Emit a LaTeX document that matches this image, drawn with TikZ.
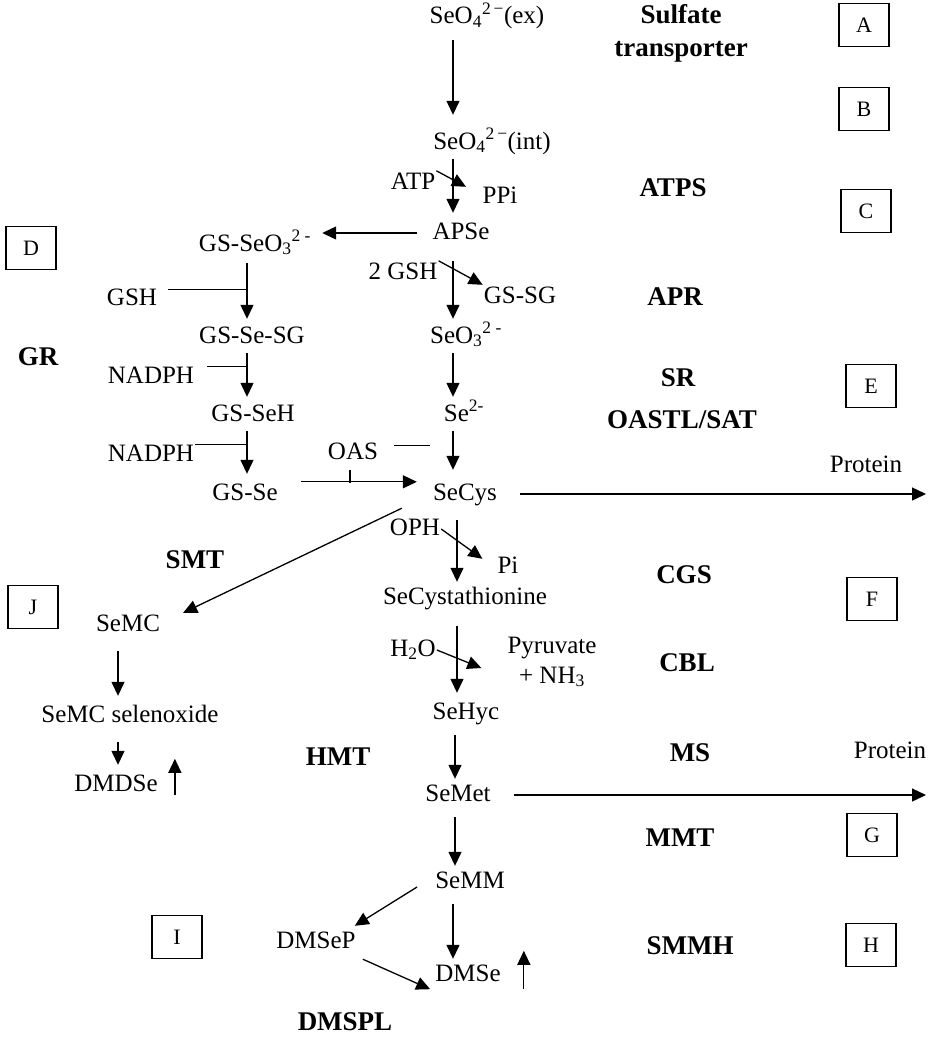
\documentclass[tikz,border=0pt]{standalone}
\usepackage{fontspec}
\setmainfont{Liberation Serif}
\usetikzlibrary{arrows.meta,calc}

\tikzset{
  chem/.style={font=\fontsize{25}{28}\selectfont, inner sep=1pt, text height=17pt, text depth=5pt},
  enz/.style={font=\fontsize{27}{33}\selectfont\bfseries, inner sep=1pt, align=center},
  tag/.style={draw, line width=1.1pt, minimum width=50pt, minimum height=43pt, inner sep=0pt, font=\fontsize{22}{24}\selectfont},
  flow/.style={line width=1.3pt, -{Triangle[length=14pt,width=13pt]}, shorten <=8pt, shorten >=6pt},
  feed/.style={line width=1.3pt},
}

\begin{document}
\begin{tikzpicture}[x=1pt,y=-1pt]
\useasboundingbox (0,0) rectangle (928,1041);
\coordinate (mcol) at (453,0);
\coordinate (lcol) at (247,0);
\coordinate (scol) at (118,0);
\coordinate (rim) at (926,0);

% main pathway
\node[chem] (ex) at (487,18) {SeO\textsubscript{4}\textsuperscript{2\,−}(ex)};
\node[chem] (int) at (492,143) {SeO\textsubscript{4}\textsuperscript{2\,−}(int)};
\node[chem] (ATP) at (413,183) {ATP};
\node[chem] (PPi) at (500,197) {PPi};
\node[chem] (APSe) at (461,233) {APSe};
\node[chem] (gsh2) at (403,273) {2 GSH};
\node[chem] (gssg) at (520,297) {GS-SG};
\node[chem] (seo3) at (466,337) {SeO\textsubscript{3}\textsuperscript{2 -}};
\node[chem] (se) at (464,415) {Se\textsuperscript{2-}};
\node[chem] (oas) at (353,453) {OAS};
\node[chem] (secys) at (465,494) {SeCys};
\node[chem] (prot1) at (866,466) {Protein};
\node[chem] (oph) at (415,529) {OPH};
\node[chem] (pi) at (508,567) {Pi};
\node[chem] (secyst) at (465,598) {SeCystathionine};
\node[chem] (h2o) at (413,650) {H\textsubscript{2}O};
\node[font=\fontsize{25}{30}\selectfont, align=center, inner sep=1pt] (pyr) at (552,662) {Pyruvate\\+ NH\textsubscript{3}};
\node[chem] (sehyc) at (466,713) {SeHyc};
\node[chem] (semet) at (458,795) {SeMet};
\node[chem] (prot2) at (890,752) {Protein};
\node[chem] (semm) at (470,882) {SeMM};
\node[chem] (dmsep) at (316,942) {DMSeP};
\node[chem] (dmse) at (468,975) {DMSe};

% glutathione branch
\node[chem] (gsseo3) at (255,245) {GS-SeO\textsubscript{3}\textsuperscript{2 -}};
\node[chem] (gsh) at (132,299) {GSH};
\node[chem] (gssesg) at (252,337) {GS-Se-SG};
\node[chem] (nadph1) at (151,377) {NADPH};
\node[chem] (gsseh) at (253,415) {GS-SeH};
\node[chem] (nadph2) at (151,455) {NADPH};
\node[chem] (gsse) at (245,494) {GS-Se};

% methylselenocysteine branch
\node[chem] (semc) at (128,625) {SeMC};
\node[chem] (semcox) at (130,716) {SeMC selenoxide};
\node[chem] (dmdse) at (116,785) {DMDSe};

% enzymes
\node[enz] (sultr) at (681,33) {Sulfate\\transporter};
\node[enz] (atps) at (673,188) {ATPS};
\node[enz] (apr) at (675,297) {APR};
\node[enz] (sr) at (678,378) {SR};
\node[enz] (oastl) at (682,420) {OASTL/SAT};
\node[enz] (cgs) at (684,575) {CGS};
\node[enz] (cbl) at (687,663) {CBL};
\node[enz] (ms) at (690,753) {MS};
\node[enz] (mmt) at (680,838) {MMT};
\node[enz] (smmh) at (690,946) {SMMH};
\node[enz] (gr) at (38,357) {GR};
\node[enz] (smt) at (195,560) {SMT};
\node[enz] (hmt) at (338,757) {HMT};
\node[enz] (dmspl) at (345,1022) {DMSPL};

% panel tags
\node[tag] (tA) at (864,25) {A};
\node[tag] (tB) at (864,109) {B};
\node[tag] (tC) at (866,211) {C};
\node[tag] (tD) at (31,248) {D};
\node[tag] (tE) at (871,386) {E};
\node[tag] (tF) at (872,599) {F};
\node[tag] (tG) at (872,835) {G};
\node[tag] (tH) at (871,945) {H};
\node[tag] (tI) at (177,937) {I};
\node[tag] (tJ) at (33,607) {J};

% main column arrows
\draw[flow, shorten <=10pt, shorten >=16pt] (ex.south -| mcol) -- (int.north -| mcol);
\draw[flow, shorten <=4pt, shorten >=8pt] (int.south -| mcol) -- (APSe.north -| mcol);
\draw[feed, -{Triangle[length=14pt,width=13pt]}] (ATP.north east) -- ($(ATP.north east -| mcol)+(13,16)$);
\draw[flow, shorten <=14pt, shorten >=10pt] (APSe.west) -- (APSe.west -| gsseo3.east);
\draw[flow, shorten <=16pt, shorten >=6pt] (APSe.south -| mcol) -- (seo3.north -| mcol);
\draw[feed, -{Triangle[length=14pt,width=13pt]}] (gsh2.north east) -- (gssg.north west);
\draw[flow, shorten <=4pt] (seo3.south -| mcol) -- (se.north -| mcol);
\draw[flow, shorten <=4pt, shorten >=12pt] (se.south -| mcol) -- (secys.north -| mcol);
\draw[feed] ($(oas.north east)+(15,5)$) -- ($(oas.north east -| mcol)+(-23,5)$);
\draw[flow, shorten <=22pt, shorten >=15pt] (gsse.north east) -- (gsse.north east -| secys.west);
\draw[feed] ($(oas.south)+(-3,5)$) -- ++(0,13);
\draw[flow, shorten <=22pt, shorten >=0pt] (secys.east) -- (secys.east -| rim);
\draw[flow, shorten <=0pt, shorten >=0pt] ($(secys.south west)+(-30,2)$) -- ($(semc.north east)+(22,0)$);
\draw[flow, shorten <=14pt, shorten >=4pt] ($(secys.south -| mcol)+(4,0)$) -- ($(secyst.north -| mcol)+(4,0)$);
\draw[feed, -{Triangle[length=14pt,width=13pt]}] (oph.east) -- ($(pi.north west)+(-14,4)$);
\draw[flow, shorten <=16pt, shorten >=8pt] ($(secyst.south -| mcol)+(4,0)$) -- ($(sehyc.north -| mcol)+(4,0)$);
\draw[feed, -{Triangle[length=14pt,width=13pt]}] (h2o.east) -- ($(pyr.west)+(-25,6)$);
\draw[flow, shorten <=10pt, shorten >=4pt] ($(sehyc.south -| mcol)+(2,0)$) -- ($(semet.north -| mcol)+(2,0)$);
\draw[flow, shorten <=22pt, shorten >=0pt] (semet.east) -- (semet.east -| rim);
\draw[flow, shorten <=10pt, shorten >=4pt] ($(semet.south -| mcol)+(2,0)$) -- ($(semm.north -| mcol)+(2,0)$);
\draw[flow, shorten <=0pt, shorten >=0pt] ($(semm.west)+(-17,5)$) -- ($(dmsep.north east)+(-2,-4)$);
\draw[flow, shorten <=10pt, shorten >=4pt] (semm.south -| mcol) -- (dmse.north -| mcol);
\draw[flow, shorten <=0pt, shorten >=0pt] ($(dmsep.south east)+(6,5)$) -- ($(dmse.south west)+(-4,2)$);
\draw[flow, shorten <=0pt, shorten >=0pt] ($(dmse.south east)+(22,2)$) -- ($(dmse.north east)+(22,-12)$);

% glutathione branch arrows
\draw[flow, shorten <=6pt, shorten >=6pt] (gsseo3.south -| lcol) -- (gssesg.north -| lcol);
\draw[feed] ($(gsh.north east)+(10,3)$) -- ($(gsh.north east -| lcol)+(0,3)$);
\draw[flow, shorten <=4pt, shorten >=6pt] (gssesg.south -| lcol) -- (gsseh.north -| lcol);
\draw[feed] ($(nadph1.north east)+(12,2)$) -- ($(nadph1.north east -| lcol)+(0,2)$);
\draw[flow, shorten <=4pt, shorten >=8pt] (gsseh.south -| lcol) -- (gsse.north -| lcol);
\draw[feed] ($(nadph2.north east)+(0,2)$) -- ($(nadph2.north east -| lcol)+(0,2)$);

% methylselenocysteine branch arrows
\draw[flow, shorten <=14pt, shorten >=8pt] (semc.south -| scol) -- (semcox.north -| scol);
\draw[flow, shorten <=14pt, shorten >=8pt] (semcox.south -| scol) -- (dmdse.north -| scol);
\draw[flow, shorten <=0pt, shorten >=0pt] ($(dmdse.south east)+(16,-2)$) -- ($(dmdse.north east)+(16,-14)$);
\end{tikzpicture}
\end{document}
